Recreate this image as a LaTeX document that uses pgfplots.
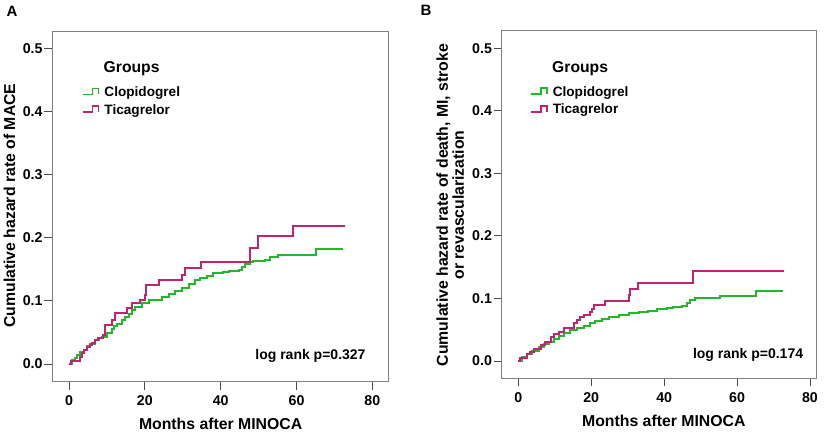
\documentclass[border=0pt]{standalone}
\usepackage{fontspec}
\setmainfont{Liberation Sans}
\usepackage{pgfplots}
\pgfplotsset{compat=1.18}
\definecolor{cgreen}{RGB}{34,184,44}
\definecolor{cmag}{RGB}{192,36,112}
\definecolor{boxgray}{RGB}{128,128,128}

\pgfplotsset{km/.style={
  scale only axis,
  axis line style={boxgray, line width=1pt},
  tick style={black!70, line width=0.9pt},
  tick align=outside,
  major tick length=8pt,
  xtick={0,20,40,60,80},
  ytick={0,0.1,0.2,0.3,0.4,0.5},
  xtick pos=lower, ytick pos=left,
  /pgf/number format/assume math mode=true,
  yticklabel style={/pgf/number format/fixed, /pgf/number format/fixed zerofill, /pgf/number format/precision=1,
     inner sep=0pt, anchor=east, xshift=-1.6pt},
  xticklabel style={inner sep=0pt, anchor=north, yshift=-6pt},
  ticklabel style={font=\fontsize{14.2}{16}\selectfont\bfseries},
  label style={font=\fontsize{15.8}{16}\selectfont\bfseries},
  legend style={draw=none, fill=none, inner sep=0pt, outer sep=0pt,
     font=\fontsize{13.6}{16}\selectfont\bfseries,
     nodes={inner sep=0pt, text height=10pt, text depth=3pt},
     row sep=4.6pt, column sep=0pt,
     /tikz/every odd column/.style={column sep=5pt},
     cells={anchor=west}},
  legend image code/.code={\draw[#1, line width=1.8pt] (0pt,-1.5pt) -- (10pt,-1.5pt) -- (10pt,4.5pt) -- (16pt,4.5pt) -- (16pt,-1.5pt);},
  every axis plot/.append style={const plot mark left, line width=2pt, mark=none},
}}

\begin{document}
\begin{tikzpicture}
\useasboundingbox (0,0) rectangle (829pt,432pt);

% ---------------- Panel A ----------------
\begin{axis}[km,
  at={(52.3pt,50.3pt)}, anchor=south west,
  width=336pt, height=350pt,
  xmin=-4.4, xmax=84.2, ymin=-0.028, ymax=0.5263,
  xlabel={Months after MINOCA},
  ylabel={Cumulative hazard rate of MACE},
  xlabel style={at={(axis description cs:0.501,-0.1209)}, anchor=center},
  ylabel style={at={(axis description cs:-0.1274,0.503)}, anchor=center},
  legend style={at={(axis description cs:0.0875,0.8437)}, anchor=north west},
]
\addplot[cgreen] coordinates {
(0,0) (0.8,0.006) (1.5,0.010) (2.1,0.014) (3.0,0.019) (3.9,0.023) (4.8,0.028) (5.6,0.032)
(6.9,0.038) (7.8,0.041) (8.7,0.043) (10.0,0.0485) (11.3,0.055) (12.0,0.060) (12.7,0.064)
(14.0,0.070) (14.8,0.075) (15.7,0.080) (16.6,0.086) (17.5,0.091) (19.3,0.096) (21.0,0.101)
(23.7,0.102) (24.5,0.106) (26.3,0.111) (28.0,0.116) (29.8,0.121) (31.6,0.127) (33.2,0.133)
(34.6,0.137) (36.3,0.139) (38.1,0.1435) (40.7,0.146) (42.3,0.148) (44.9,0.149) (45.6,0.154)
(46.4,0.159) (47.8,0.162) (48.6,0.1635) (51.7,0.1655) (53.0,0.169) (55.2,0.1725) (65.2,0.1815)
(72.2,0.1815)};
\addlegendentry{Clopidogrel}
\addplot[cmag] coordinates {
(0,0) (0.4,0.005) (2.9,0.0116) (3.3,0.017) (4.0,0.023) (4.8,0.0275) (5.5,0.030) (6.2,0.034)
(6.9,0.038) (7.7,0.041) (8.2,0.042) (9.1,0.046) (9.5,0.062) (11.3,0.070) (12.2,0.081)
(15.3,0.088) (16.6,0.096) (18.6,0.102) (20.0,0.110) (20.3,0.125) (23.7,0.133) (29.9,0.141)
(30.5,0.152) (34.8,0.162) (47.7,0.183) (49.8,0.203) (59.0,0.219) (72.8,0.219)};
\addlegendentry{Ticagrelor}
\end{axis}

% ---------------- Panel B ----------------
\begin{axis}[km,
  at={(501.7pt,53.7pt)}, anchor=south west,
  width=315pt, height=347.3pt,
  xmin=-4.55, xmax=81.84, ymin=-0.0277, ymax=0.5277,
  xlabel={Months after MINOCA},
  ylabel={Cumulative hazard rate of death, MI, stroke\\or revascularization},
  xlabel style={at={(axis description cs:0.5146,-0.1224)}, anchor=center},
  ylabel style={at={(axis description cs:-0.1632,0.499)}, anchor=center, align=center},
  legend style={at={(axis description cs:0.0898,0.8405)}, anchor=north west},
]
\addplot[cgreen] coordinates {
(0,0) (1.0,0.006) (2.4,0.011) (3.8,0.0165) (5.6,0.023) (7.0,0.027) (8.3,0.031) (9.7,0.0347)
(11.1,0.040) (12.4,0.045) (14.3,0.0496) (16.1,0.053) (17.9,0.0565) (19.7,0.060) (21.1,0.0645)
(23.0,0.0667) (24.8,0.071) (27.5,0.073) (30.3,0.0763) (33.0,0.078) (35.5,0.0805) (38.0,0.0827)
(40.7,0.0843) (42.5,0.087) (44.8,0.0885) (46.2,0.093) (47.1,0.0976) (48.5,0.100) (55.3,0.1045)
(65.1,0.1125) (72.5,0.1125)};
\addlegendentry{Clopidogrel}
\addplot[cmag] coordinates {
(0,0) (0.5,0.0053) (2.4,0.011) (3.3,0.015) (4.2,0.019) (6.3,0.0256) (7.2,0.030) (9.1,0.039)
(9.7,0.0427) (11.1,0.047) (12.4,0.053) (15.2,0.060) (16.1,0.0656) (17.0,0.070) (17.9,0.0736)
(19.7,0.078) (20.2,0.083) (20.7,0.0896) (23.7,0.0965) (30.3,0.1056) (30.7,0.1147) (32.8,0.124)
(48.0,0.144) (72.9,0.144)};
\addlegendentry{Ticagrelor}
\end{axis}

% ---------------- texts ----------------
\node[anchor=base west, inner sep=0pt, font=\fontsize{15}{16}\selectfont\bfseries] at (6.5pt,415.3pt) {A};
\node[anchor=base west, inner sep=0pt, font=\fontsize{15}{16}\selectfont\bfseries] at (420.5pt,416pt) {B};
\node[anchor=base west, inner sep=0pt, font=\fontsize{15.7}{17}\selectfont\bfseries] at (103.5pt,359pt) {Groups};
\node[anchor=base west, inner sep=0pt, font=\fontsize{15.7}{17}\selectfont\bfseries] at (552pt,359pt) {Groups};
\node[anchor=base east, inner sep=0pt, font=\fontsize{14}{16}\selectfont\bfseries] at (365.7pt,73pt) {log rank p=0.327};
\node[anchor=base east, inner sep=0pt, font=\fontsize{14}{16}\selectfont\bfseries] at (803.3pt,73.7pt) {log rank p=0.174};
\end{tikzpicture}
\end{document}
